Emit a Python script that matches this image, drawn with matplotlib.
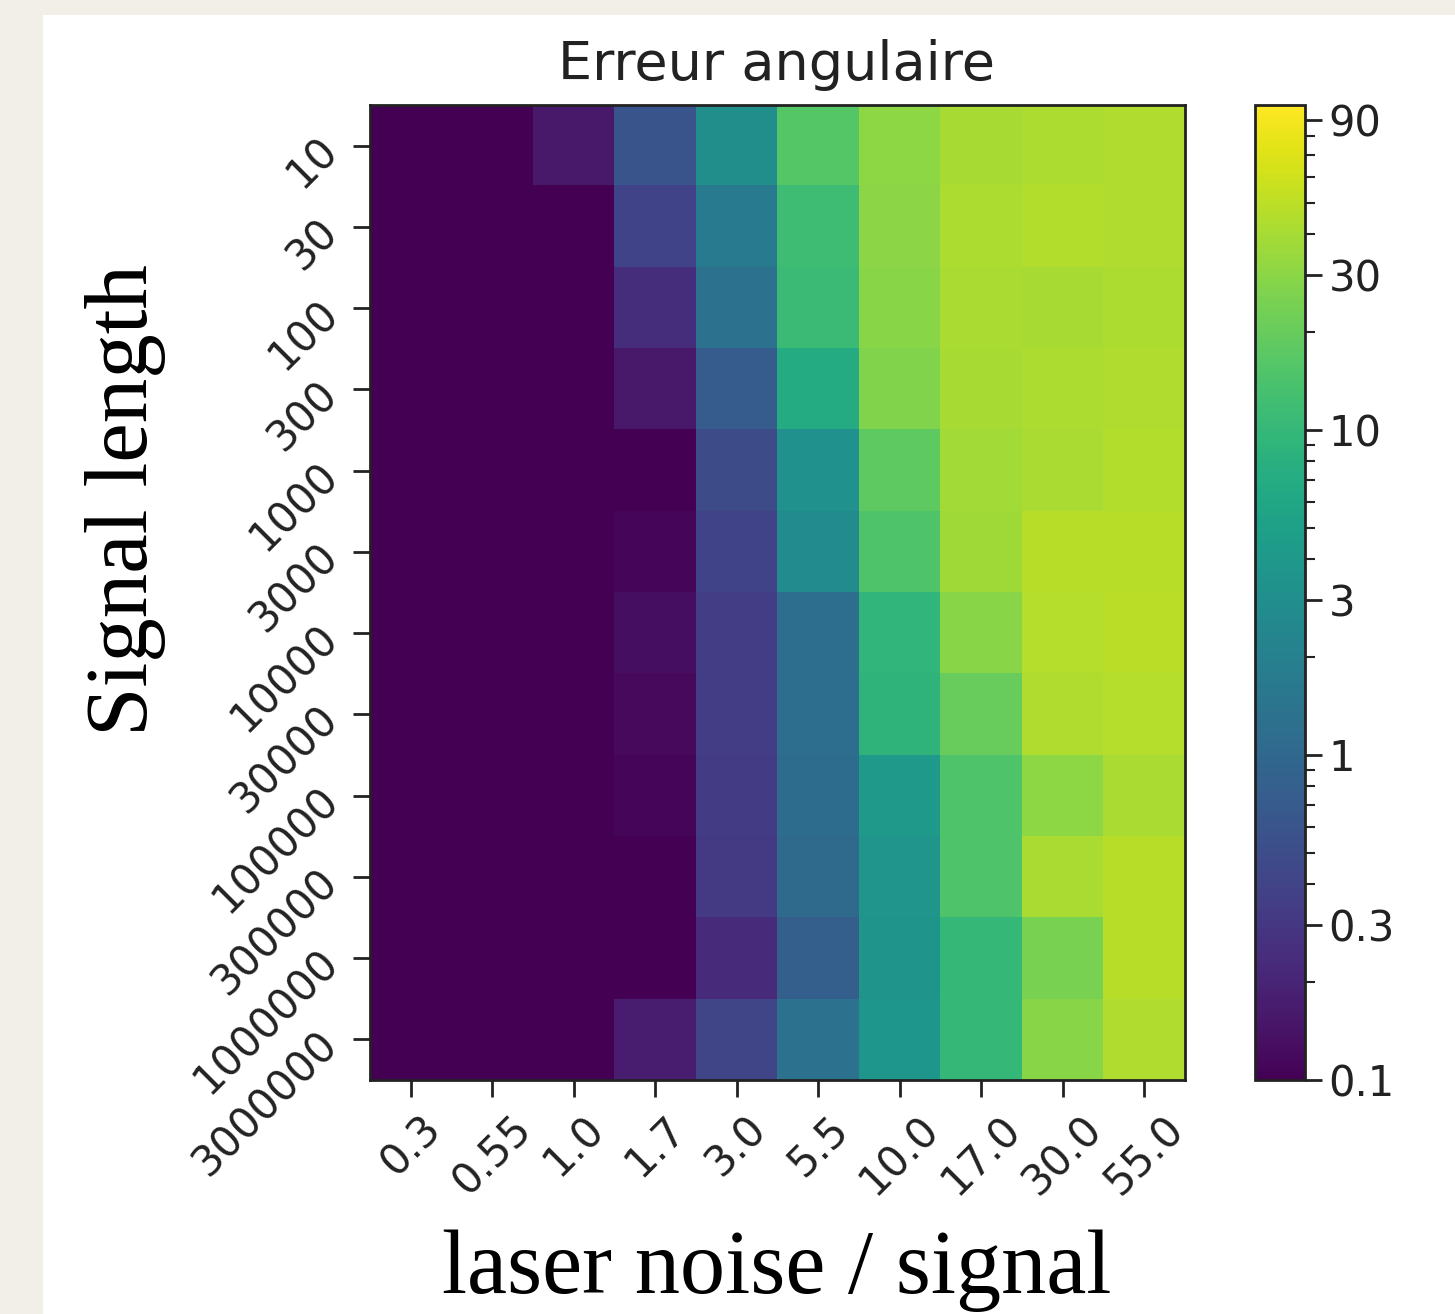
import numpy as np
import matplotlib.pyplot as plt
from matplotlib.colors import LogNorm
from matplotlib.patches import Rectangle
from matplotlib.ticker import NullFormatter

# noise / signal ratio (columns) and signal length (rows)
noise_levels = ['0.3', '0.55', '1.0', '1.7', '3.0', '5.5', '10.0', '17.0', '30.0', '55.0']
signal_lengths = ['10', '30', '100', '300', '1000', '3000', '10000', '30000',
                  '100000', '300000', '1000000', '3000000']

# angular error (degrees), one row per signal length
angular_error = [
    [0.1, 0.1, 0.16, 0.60, 3.0, 16.0, 31.0, 41.0, 43.0, 44.0],
    [0.1, 0.1, 0.10, 0.40, 1.7, 11.7, 30.0, 43.0, 45.0, 44.0],
    [0.1, 0.1, 0.10, 0.25, 1.3, 11.0, 29.0, 42.0, 41.0, 43.0],
    [0.1, 0.1, 0.10, 0.16, 0.75, 7.0, 27.0, 40.0, 43.0, 44.0],
    [0.1, 0.1, 0.10, 0.10, 0.50, 3.3, 18.0, 38.0, 42.0, 45.0],
    [0.1, 0.1, 0.10, 0.11, 0.40, 2.8, 15.0, 37.0, 48.0, 48.0],
    [0.1, 0.1, 0.10, 0.13, 0.35, 1.2, 9.5, 29.0, 46.0, 49.0],
    [0.1, 0.1, 0.10, 0.12, 0.35, 1.2, 9.0, 20.0, 44.0, 46.0],
    [0.1, 0.1, 0.10, 0.11, 0.33, 1.15, 4.2, 15.0, 31.0, 42.0],
    [0.1, 0.1, 0.10, 0.10, 0.32, 1.1, 3.7, 15.0, 42.0, 47.0],
    [0.1, 0.1, 0.10, 0.10, 0.23, 0.8, 3.6, 10.0, 25.0, 47.0],
    [0.1, 0.1, 0.10, 0.17, 0.42, 1.3, 3.8, 10.0, 29.0, 44.0],
]

cbar_ticks = [0.1, 0.3, 1, 3, 10, 30, 90]
cbar_labels = ['0.1', '0.3', '1', '3', '10', '30', '90']

W, H = 1455, 1314
fig = plt.figure(figsize=(W / 100, H / 100), dpi=100)
fig.patch.set_facecolor('#f2efe8')
# white slide panel behind the plot
fig.patches.append(Rectangle((43 / W, 0), 1 - 43 / W, 1 - 15 / H,
                             transform=fig.transFigure, facecolor='white',
                             edgecolor='none', zorder=-10))

ax = fig.add_axes([370 / W, 1 - 1080 / H, 815 / W, 975 / H])
cax = fig.add_axes([1255 / W, 1 - 1080 / H, 50 / W, 975 / H])

norm = LogNorm(vmin=0.1, vmax=100)
im = ax.imshow(np.array(angular_error), cmap='viridis', norm=norm,
               aspect='auto', interpolation='nearest')

tick_fs = 30
ax.set_xticks(range(len(noise_levels)))
ax.set_xticklabels(noise_levels, rotation=45, fontsize=tick_fs, color='#222222')
ax.set_yticks(range(len(signal_lengths)))
ax.set_yticklabels(signal_lengths, rotation=45, fontsize=tick_fs, color='#222222')
ax.tick_params(length=12, width=2, color='#222222')
ax.tick_params(axis='x', pad=8)
ax.tick_params(axis='y', pad=5)
for s in ax.spines.values():
    s.set_linewidth(2)
    s.set_color('#222222')

cbar = fig.colorbar(im, cax=cax)
cbar.set_ticks(cbar_ticks, labels=cbar_labels)
cax.yaxis.set_minor_formatter(NullFormatter())
cax.tick_params(which='major', length=12, width=2, pad=5, labelsize=tick_fs,
                color='#222222', labelcolor='#222222')
cax.tick_params(which='minor', length=7, width=1.5, color='#222222')
cbar.outline.set_linewidth(2)
cbar.outline.set_edgecolor('#222222')

fig.text(777 / W, 1 - 80 / H, 'Erreur angulaire', ha='center', va='baseline',
         fontsize=39, color='#222222')

fig.text(777 / W, 1 - 1293 / H, 'laser noise / signal', ha='center',
         va='baseline', fontsize=65, family='Liberation Serif')
fig.text(147 / W, 1 - 500 / H, 'Signal length', rotation=90,
         rotation_mode='anchor', ha='center', va='baseline', fontsize=64,
         family='Liberation Serif')

fig.savefig('out.png', dpi=100, facecolor=fig.get_facecolor())
